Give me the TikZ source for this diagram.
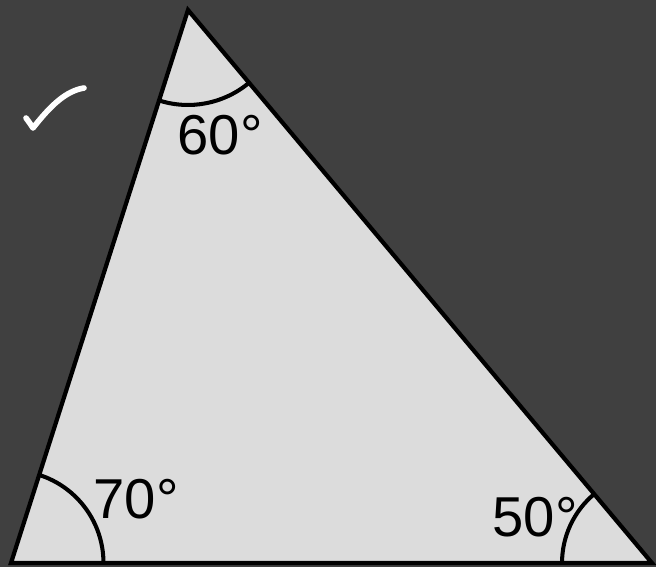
\documentclass[tikz,border=0pt]{standalone}
\usepackage{fontspec}
\setmainfont{Liberation Sans}
\usepackage{tikz}
\usetikzlibrary{angles, positioning}
\definecolor{bgdark}{HTML}{404040}
\definecolor{trifill}{HTML}{DCDCDC}

\begin{document}
\begin{tikzpicture}[
    x=0.02cm, y=-0.02cm,
    side/.style={draw=black, line width=2.4pt, line join=miter},
    anglearc/.style={draw=black, line width=2.3pt},
    deg/.style={font=\fontsize{32}{38}\selectfont, text=black, inner sep=0pt},
    tickmark/.style={draw=white, line width=3.2pt, line cap=round, line join=round}
  ]
    % Background
    \fill[bgdark] (0,0) rectangle (656,567);
    \useasboundingbox (0,0) rectangle (656,567);

    % Corners
    \coordinate (top)   at (188,10);
    \coordinate (left)  at (11,563);
    \coordinate (right) at (652,563);

    % Triangle
    \filldraw[side, fill=trifill] (top) -- (left) -- (right) -- cycle;

    % Angle marks
    \pic[anglearc, angle radius=1.9cm]  {angle=left--top--right};
    \pic[anglearc, angle radius=1.85cm] {angle=right--left--top};
    \pic[anglearc, angle radius=1.8cm]  {angle=top--right--left};

    % Labels
    \node[deg] (degtop)   at (220,135) {60°};
    \node[deg] (degleft)  at (136,499) {70°};
    \node[deg] (degright) at (535,517) {50°};

    % Check mark
    \draw[tickmark] (26,118) .. controls (29,122) .. (33,128)
      .. controls (51,105) and (66,91) .. (84,88);
  \end{tikzpicture}
\end{document}
